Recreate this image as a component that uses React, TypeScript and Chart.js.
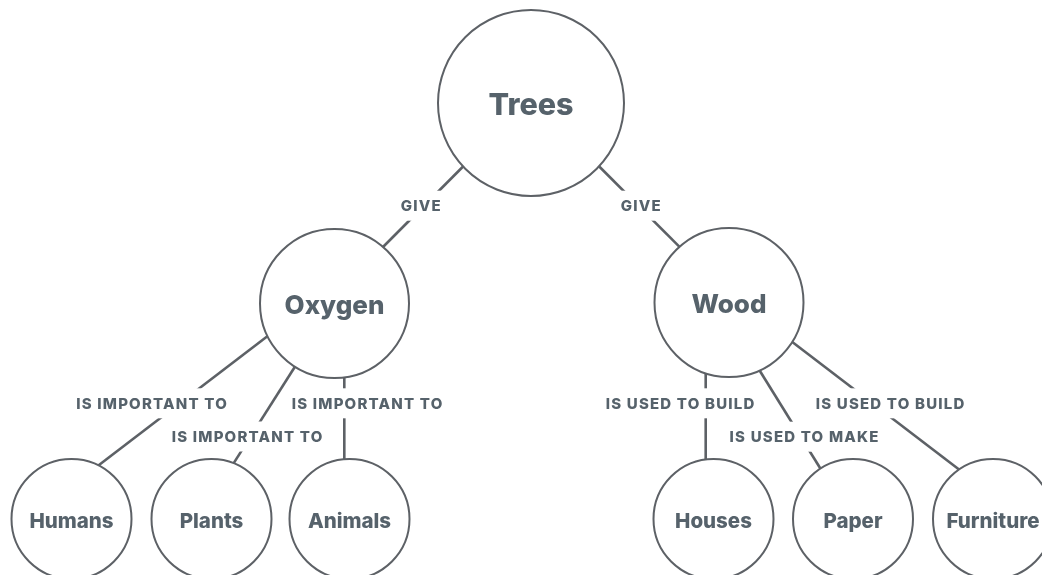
import React, { useEffect, useRef } from "react";
import { Chart, registerables } from "chart.js";

Chart.register(...registerables);

// Nodes of the concept map (diagram units = canvas pixels)
const nodeLabels = ["Trees", "Oxygen", "Wood", "Humans", "Plants", "Animals", "Houses", "Paper", "Furniture"];
const nodeX = [531, 334.5, 729, 71.5, 211.5, 349.5, 713.5, 853, 993];
const nodeY = [103, 303.5, 302.5, 519, 519, 519, 519, 519, 519];
const nodeR = [93, 74.5, 74.5, 60, 60, 60, 60, 60, 60];
const nodeFontSize = [30.5, 26, 26, 20.5, 20.5, 20.5, 20.5, 20.5, 20.5];

// Edges (links) between nodes
const edgeLabels = ["GIVE", "GIVE", "IS IMPORTANT TO", "IS IMPORTANT TO", "IS IMPORTANT TO", "IS USED TO BUILD", "IS USED TO MAKE", "IS USED TO BUILD"];
const edgeX1 = [462.3, 600, 266.7, 294.3, 344.3, 705.7, 760.7, 793.3];
const edgeY1 = [167.3, 167.3, 336.7, 367.7, 377.3, 376.7, 372.3, 342.7];
const edgeX2 = [383.3, 680, 100, 234, 344.3, 705.7, 819.3, 956.7];
const edgeY2 = [246.7, 247.3, 464.3, 462.7, 458.3, 457.7, 466.7, 467.7];
const edgeLabelX = [420.7, 640.7, 151.5, 247, 367, 680, 804, 890];
const edgeLabelY = [205.7, 205.7, 403.3, 436.5, 403.3, 403.3, 436.7, 403.3];

const LINE = "#5d6166";
const TEXT = "#56626b";

function extend(i: number) {
  const dx = edgeX2[i] - edgeX1[i];
  const dy = edgeY2[i] - edgeY1[i];
  const len = Math.hypot(dx, dy);
  const ux = dx / len, uy = dy / len;
  const e = 5;
  return [
    { x: edgeX1[i] - ux * e, y: edgeY1[i] - uy * e },
    { x: edgeX2[i] + ux * e, y: edgeY2[i] + uy * e },
  ];
}

const labelPlugin = {
  id: "conceptLabels",
  afterDatasetsDraw(chart: any) {
    const ctx = chart.ctx as CanvasRenderingContext2D;
    const xs = chart.scales.x;
    const ys = chart.scales.y;
    ctx.save();
    // edge labels with white knock-out boxes
    ctx.font = "800 15px Inter";
    (ctx as any).letterSpacing = "1.2px";
    ctx.textAlign = "center";
    ctx.textBaseline = "alphabetic";
    const capH = ctx.measureText("H").actualBoundingBoxAscent;
    edgeLabels.forEach((t, i) => {
      const px = xs.getPixelForValue(edgeLabelX[i]);
      const py = ys.getPixelForValue(edgeLabelY[i]);
      const w = ctx.measureText(t).width;
      ctx.fillStyle = "#ffffff";
      ctx.fillRect(px - w / 2 - 4, py - 15, w + 8, 30);
      ctx.fillStyle = TEXT;
      ctx.fillText(t, px + 0.6, py + capH / 2);
    });
    // node labels
    (ctx as any).letterSpacing = "0px";
    nodeLabels.forEach((t, i) => {
      ctx.font = `800 ${nodeFontSize[i]}px Inter`;
      const h = ctx.measureText("H").actualBoundingBoxAscent;
      const px = xs.getPixelForValue(nodeX[i]);
      const py = ys.getPixelForValue(nodeY[i]);
      ctx.fillStyle = TEXT;
      ctx.fillText(t, px, py + h / 2 + 1);
    });
    ctx.restore();
  },
};

export default function App() {
  const ref = useRef<HTMLCanvasElement>(null);
  useEffect(() => {
    document.body.style.margin = "0";
    const lineSets = edgeLabels.map((l, i) => ({
      type: "line" as const,
      label: l,
      data: extend(i),
      borderColor: LINE,
      borderWidth: 2.6,
      pointRadius: 0,
      fill: false,
      order: 2,
      clip: false as any,
    }));
    const chart = new Chart(ref.current!, {
      type: "bubble",
      data: {
        datasets: [
          ...lineSets,
          {
            type: "bubble" as const,
            label: "nodes",
            data: nodeLabels.map((_, i) => ({ x: nodeX[i], y: nodeY[i], r: nodeR[i] })),
            backgroundColor: "#ffffff",
            borderColor: LINE,
            borderWidth: 2,
            hoverRadius: 0,
            order: 1,
            clip: false as any,
          },
        ] as any,
      },
      options: {
        animation: false,
        responsive: false,
        events: [],
        layout: { padding: 0, autoPadding: false },
        plugins: { legend: { display: false }, tooltip: { enabled: false } },
        scales: {
          x: { type: "linear", min: 0, max: 1042, display: false },
          y: { type: "linear", min: 0, max: 575, reverse: true, display: false },
        },
      },
      plugins: [labelPlugin],
    });
    return () => chart.destroy();
  }, []);
  return (
    <div style={{ width: 1042, height: 575, background: "#ffffff" }}>
      <canvas ref={ref} width={1042} height={575} />
    </div>
  );
}
